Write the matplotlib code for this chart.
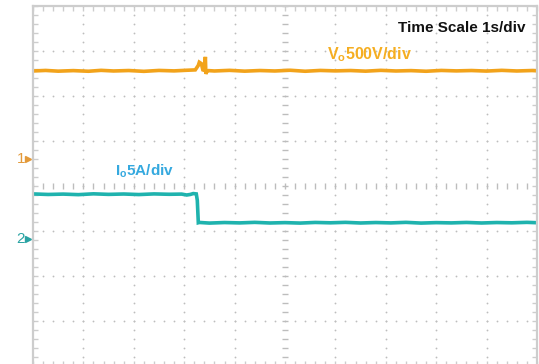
import numpy as np
import matplotlib.pyplot as plt

plt.rcParams['font.family'] = ['Liberation Sans', 'DejaVu Sans']

# scope settings
v_per_div = 500.0   # CH1
a_per_div = 5.0     # CH2
ch1_offset = 0.6    # ground marker positions, divisions
ch2_offset = -1.18

# CH1: output voltage (V) vs time (s)
vo_t = [0.0, 0.25, 0.5, 0.8, 1.1, 1.35, 1.6, 1.9, 2.2, 2.5, 2.8, 3.05, 3.22,
        3.28, 3.30, 3.34, 3.37, 3.40, 3.42, 3.43, 3.45, 3.48, 3.6, 3.9, 4.2,
        4.5, 4.8, 5.1, 5.4, 5.7, 6.0, 6.3, 6.6, 6.9, 7.2, 7.5, 7.8, 8.1, 8.4,
        8.7, 9.0, 9.3, 9.6, 9.9, 10.0]
vo_v = [978, 984, 976, 982, 975, 985, 978, 983, 974, 984, 979, 986, 990,
        1040, 1075, 1060, 990, 985, 1135, 945, 975, 982, 978, 985, 976,
        983, 978, 986, 975, 984, 979, 983, 976, 985, 978, 982, 975, 984, 979,
        983, 977, 985, 978, 983, 980]

# CH2: output current (A) vs time (s)
io_t = [0.0, 0.3, 0.6, 0.9, 1.2, 1.5, 1.8, 2.1, 2.4, 2.7, 2.95, 3.05, 3.12,
        3.18, 3.24, 3.26, 3.28, 3.3, 3.5, 3.8, 4.1, 4.4, 4.7, 5.0, 5.3, 5.6,
        5.9, 6.2, 6.5, 6.8, 7.1, 7.4, 7.7, 8.0, 8.3, 8.6, 8.9, 9.2, 9.5, 9.8,
        10.0]
io_a = [5.02, 4.96, 5.0, 4.94, 5.03, 4.97, 5.01, 4.95, 5.02, 4.98, 5.0, 4.9,
        4.96, 5.06, 5.02, 4.3, 1.82, 1.85, 1.78, 1.84, 1.8, 1.86, 1.79, 1.83,
        1.78, 1.85, 1.81, 1.86, 1.79, 1.84, 1.8, 1.86, 1.78, 1.83, 1.8, 1.85,
        1.79, 1.84, 1.81, 1.86, 1.82]

vo_div = np.array(vo_v) / v_per_div + ch1_offset
io_div = np.array(io_a) / a_per_div + ch2_offset

c_ch1 = '#f2a31b'
c_ch2 = '#1fb3ae'
grid_c = '#bdbdbd'
frame_c = '#cdcdcd'

fig = plt.figure(figsize=(5.39, 3.64), dpi=100)
ax = fig.add_axes([33 / 539, -2 / 364, 504 / 539, 360 / 364])
ax.set_xlim(0, 10)
ax.set_ylim(-4, 4)

# graticule: dotted division lines
sub_x = np.arange(0, 10.01, 0.2)
sub_y = np.arange(-4, 4.01, 0.2)
for gx in [1, 2, 3, 4, 6, 7, 8, 9]:
    ax.plot(np.full_like(sub_y, gx), sub_y, ls='none', marker='o', ms=1.3,
            mfc=grid_c, mec='none')
for gy in [-3, -2, -1, 1, 2, 3]:
    ax.plot(sub_x, np.full_like(sub_x, gy), ls='none', marker='o', ms=1.3,
            mfc=grid_c, mec='none')
# centre cross with minor ticks
ax.plot(sub_x, np.zeros_like(sub_x), ls='none', marker='|', ms=4.5,
        mew=1.0, color=grid_c)
ax.plot(np.full_like(sub_y, 5), sub_y, ls='none', marker='_', ms=5,
        mew=1.0, color=grid_c)

for s in ax.spines.values():
    s.set_color(frame_c)
    s.set_linewidth(1.6)
ax.set_xticks(sub_x)
ax.set_yticks(sub_y)
ax.tick_params(direction='in', length=3.5, width=1.0, color=frame_c,
               top=True, right=True, labelbottom=False, labelleft=False)

# traces
ax.plot(vo_t, vo_div, color=c_ch1, lw=2.6, solid_joinstyle='miter')
ax.plot(io_t, io_div, color=c_ch2, lw=2.6, solid_joinstyle='miter')

# channel ground markers
ax.text(-0.16, ch1_offset, '1', color='#e39a3a', fontsize=11,
        ha='right', va='center', clip_on=False)
ax.plot([-0.09], [ch1_offset], marker='>', ms=4, color='#e39a3a',
        clip_on=False)
ax.text(-0.16, ch2_offset, '2', color='#2aa3a3', fontsize=11,
        ha='right', va='center', clip_on=False)
ax.plot([-0.09], [ch2_offset], marker='>', ms=4, color='#2aa3a3',
        clip_on=False)

# labels
ax.text(8.5, 3.51, 'Time Scale 1s/div', fontsize=11, fontweight='bold',
        color='#111111', ha='center', va='center')
ax.text(5.83, 2.93, r'V$_\mathregular{o}$500V/div', fontsize=11.5,
        fontweight='bold', color='#f5ae22', ha='left', va='center')
ax.text(1.63, 0.33, r'I$_\mathregular{o}$5A/div', fontsize=11,
        fontweight='bold', color='#35a9df', ha='left', va='center')

fig.savefig('out.png', dpi=100)
